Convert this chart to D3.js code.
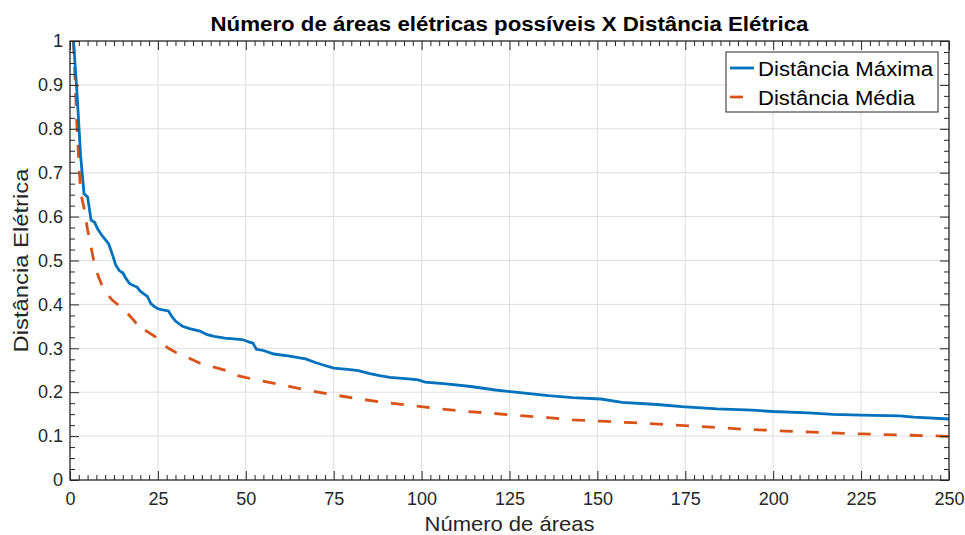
<!DOCTYPE html>
<html>
<head>
<meta charset="utf-8">
<script src="https://cdn.jsdelivr.net/npm/d3@7"></script>
<style>
  body { margin: 0; background: #fff; }
  text { font-family: "Liberation Sans", Arial, sans-serif; }
</style>
</head>
<body>
<div id="chart"></div>
<script>
// data
var areasMax = [1,2,3,4,5,6,7,8,9,10,11,12,13,14,15,16,17,18,19,20,21,22,23,24,25,26,28,29,30,32,34,37,39,41,44,49,51,52,53,55,58,62,67,70,72,75,79,82,85,88,91,97,99,101,107,114,121,128,136,143,151,157,167,174,184,194,200,210,217,225,236,240,250];
var distMax = [1.0,0.88,0.74,0.652,0.645,0.592,0.587,0.57,0.558,0.548,0.538,0.515,0.49,0.477,0.472,0.458,0.447,0.443,0.44,0.43,0.424,0.418,0.402,0.395,0.39,0.388,0.385,0.372,0.362,0.35,0.345,0.339,0.331,0.327,0.323,0.32,0.314,0.312,0.298,0.295,0.287,0.283,0.276,0.267,0.262,0.255,0.252,0.249,0.243,0.238,0.234,0.23,0.228,0.223,0.219,0.213,0.205,0.199,0.192,0.1875,0.1845,0.177,0.172,0.167,0.162,0.159,0.156,0.153,0.1495,0.148,0.146,0.143,0.139];

var areasMed = [1,2,3,4,5,6,7,8,9,10,12,14,16,18,19,20,21,24,26,28,30,33,37,41,45,48,53,59,63,68,75,82,90,98,105,113,120,128,136,143,151,160,172,181,191,202,213,225,236,250];
var distMed = [1.0,0.80,0.655,0.62,0.57,0.53,0.49,0.465,0.445,0.43,0.41,0.397,0.383,0.365,0.355,0.357,0.343,0.328,0.313,0.3,0.291,0.281,0.266,0.257,0.248,0.237,0.228,0.219,0.212,0.204,0.194,0.185,0.176,0.169,0.162,0.156,0.152,0.1465,0.142,0.137,0.134,0.1305,0.125,0.121,0.116,0.112,0.1086,0.105,0.1025,0.0995];

var xTicks = [0,25,50,75,100,125,150,175,200,225,250];
var yTicks = [0,0.1,0.2,0.3,0.4,0.5,0.6,0.7,0.8,0.9,1];
var seriesNames = ["Distância Máxima", "Distância Média"];
var titleText = "Número de áreas elétricas possíveis X Distância Elétrica";
var xLabel = "Número de áreas";
var yLabel = "Distância Elétrica";

var axisColor = "#262626";
var colMax = "#0072BD", colMed = "#D95319";

var margin = {top: 41, right: 16, bottom: 55, left: 70},
    W = 965, H = 535,
    width = W - margin.left - margin.right,
    height = H - margin.top - margin.bottom;

var svg = d3.select("#chart").append("svg")
    .attr("width", W).attr("height", H)
  .append("g")
    .attr("transform", "translate(" + margin.left + "," + margin.top + ")");

var x = d3.scaleLinear().domain([0, 250]).range([0, width]);
var y = d3.scaleLinear().domain([0, 1]).range([height, 0]);

// grid
svg.append("g").selectAll("line").data(xTicks.slice(1, -1)).enter().append("line")
    .attr("x1", function(d){ return x(d); }).attr("x2", function(d){ return x(d); })
    .attr("y1", 0).attr("y2", height)
    .style("stroke", "#dedede").style("stroke-width", 1);
svg.append("g").selectAll("line").data(yTicks.slice(1, -1)).enter().append("line")
    .attr("y1", function(d){ return y(d); }).attr("y2", function(d){ return y(d); })
    .attr("x1", 0).attr("x2", width)
    .style("stroke", "#dedede").style("stroke-width", 1);

// lines
var line = d3.line()
    .x(function(d){ return x(d[0]); })
    .y(function(d){ return y(d[1]); });

svg.append("path")
    .datum(d3.zip(areasMed, distMed))
    .attr("d", line)
    .style("fill", "none").style("stroke", colMed).style("stroke-width", 2.8)
    .style("stroke-dasharray", "13,13");

svg.append("path")
    .datum(d3.zip(areasMax, distMax))
    .attr("d", line)
    .style("fill", "none").style("stroke", colMax).style("stroke-width", 2.8);

// minor ticks
var xMinor = d3.range(0, 250.01, 2.5).filter(function(v){ return v % 25 !== 0; });
var yMinor = d3.range(0, 1.0001, 0.025).map(function(v){ return +v.toFixed(3); })
    .filter(function(v){ return Math.abs(v * 10 - Math.round(v * 10)) > 1e-6; });

function styleAxis(g) {
  g.select(".domain").remove();
  g.selectAll("line").style("stroke", axisColor).style("stroke-width", 1);
  g.selectAll("text").style("fill", axisColor).style("font-size", "18px");
}

svg.append("g").attr("transform", "translate(0," + height + ")")
    .call(d3.axisBottom(x).tickValues(xTicks).tickSize(-9).tickPadding(12).tickFormat(d3.format("d")))
    .call(styleAxis);
svg.append("g").attr("transform", "translate(0," + height + ")")
    .call(d3.axisBottom(x).tickValues(xMinor).tickSize(-5).tickFormat(""))
    .call(styleAxis);
svg.append("g")
    .call(d3.axisTop(x).tickValues(xTicks).tickSize(-9).tickFormat(""))
    .call(styleAxis);
svg.append("g")
    .call(d3.axisTop(x).tickValues(xMinor).tickSize(-5).tickFormat(""))
    .call(styleAxis);

svg.append("g")
    .call(d3.axisLeft(y).tickValues(yTicks).tickSize(-9).tickPadding(7).tickFormat(function(d){ return d3.format("")(+d.toFixed(1)); }))
    .call(styleAxis);
svg.append("g")
    .call(d3.axisLeft(y).tickValues(yMinor).tickSize(-5).tickFormat(""))
    .call(styleAxis);
svg.append("g").attr("transform", "translate(" + width + ",0)")
    .call(d3.axisRight(y).tickValues(yTicks).tickSize(-9).tickFormat(""))
    .call(styleAxis);
svg.append("g").attr("transform", "translate(" + width + ",0)")
    .call(d3.axisRight(y).tickValues(yMinor).tickSize(-5).tickFormat(""))
    .call(styleAxis);

// box
svg.append("rect")
    .attr("x", 0).attr("y", 0).attr("width", width).attr("height", height)
    .style("fill", "none").style("stroke", axisColor).style("stroke-width", 1.3);

// title + labels
svg.append("text")
    .attr("x", width / 2).attr("y", -10)
    .attr("text-anchor", "middle")
    .style("font-size", "20px").style("font-weight", "bold").style("fill", "#000")
    .attr("textLength", 598).attr("lengthAdjust", "spacingAndGlyphs")
    .text(titleText);

svg.append("text")
    .attr("x", width / 2).attr("y", height + 51)
    .attr("text-anchor", "middle")
    .style("font-size", "21px").style("fill", axisColor)
    .attr("textLength", 170).attr("lengthAdjust", "spacingAndGlyphs")
    .text(xLabel);

svg.append("text")
    .attr("transform", "translate(" + (-margin.left + 28) + "," + (height / 2) + ") rotate(-90)")
    .attr("text-anchor", "middle")
    .style("font-size", "21px").style("fill", axisColor)
    .attr("textLength", 184).attr("lengthAdjust", "spacingAndGlyphs")
    .text(yLabel);

// legend
var legend = svg.append("g").attr("transform", "translate(" + (x(250) - 223) + ",11)");
legend.append("rect")
    .attr("width", 212).attr("height", 60)
    .style("fill", "#fff").style("stroke", axisColor).style("stroke-width", 1);
var legCols = [colMax, colMed], legDash = [null, "13,13"], legW = [175, 157];
seriesNames.forEach(function(name, i) {
  var ly = 16 + i * 29;
  legend.append("line")
      .attr("x1", 4).attr("x2", 28).attr("y1", ly).attr("y2", ly)
      .style("stroke", legCols[i]).style("stroke-width", 2.8)
      .style("stroke-dasharray", legDash[i]);
  legend.append("text")
      .attr("x", 32).attr("y", ly + 8)
      .style("font-size", "20px").style("fill", "#000")
      .attr("textLength", legW[i]).attr("lengthAdjust", "spacingAndGlyphs")
      .text(name);
});
</script>
</body>
</html>
